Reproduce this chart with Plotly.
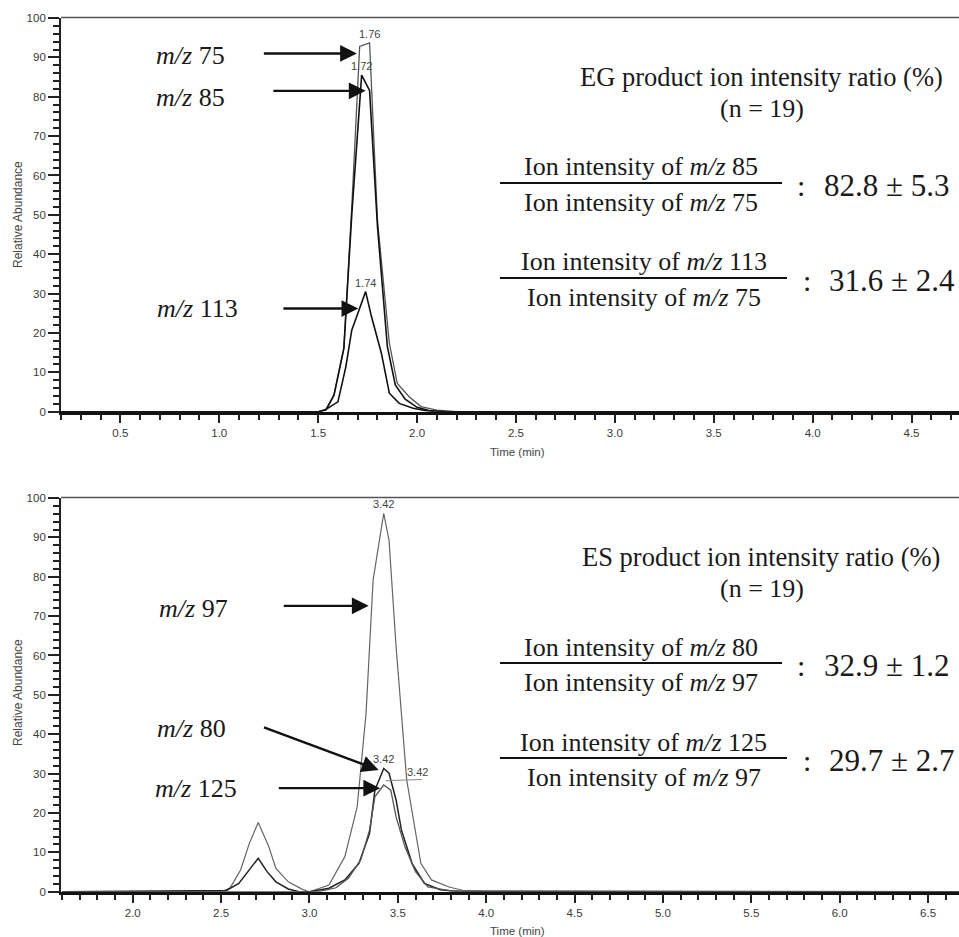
import plotly.graph_objects as go

# ---------------- data ----------------
# Top panel: EG product ions
t_75 = [0.2, 1.50, 1.54, 1.58, 1.63, 1.67, 1.71, 1.76, 1.80, 1.86, 1.90, 1.96, 2.02, 2.10, 2.20, 4.74]
v_75 = [0, 0, 0.5, 4.2, 16.1, 52, 92.8, 93.7, 48.6, 17.4, 7.2, 3.8, 1.3, 0.4, 0, 0]
t_85 = [0.2, 1.50, 1.54, 1.58, 1.63, 1.67, 1.72, 1.76, 1.80, 1.85, 1.89, 1.94, 2.00, 2.06, 2.15, 4.74]
v_85 = [0, 0, 0.5, 4.2, 16.1, 50, 85.5, 81.6, 47, 16.5, 6.8, 3.2, 1.1, 0.3, 0, 0]
t_113 = [0.2, 1.51, 1.54, 1.60, 1.64, 1.67, 1.71, 1.74, 1.77, 1.82, 1.86, 1.91, 1.98, 2.04, 2.10, 4.74]
v_113 = [0, 0, 0.6, 2.5, 11.4, 20.7, 26.3, 30.5, 24.1, 14.8, 4.7, 2.1, 0.9, 0.3, 0, 0]

# Bottom panel: ES product ions
t_97 = [1.6, 2.50, 2.55, 2.61, 2.66, 2.71, 2.77, 2.81, 2.88, 2.96, 3.00, 3.11, 3.20, 3.27, 3.32,
        3.36, 3.42, 3.45, 3.49, 3.55, 3.63, 3.69, 3.79, 3.87, 4.00, 6.68]
v_97 = [0, 0, 0.9, 5.5, 12.3, 17.6, 11.4, 5.9, 2.5, 0.6, 0, 1.7, 8.9, 21.6, 45.3,
        79.2, 96.1, 89.3, 62.2, 28.4, 7.2, 3.0, 1.2, 0.3, 0, 0]
t_80 = [1.6, 2.53, 2.60, 2.66, 2.71, 2.76, 2.81, 2.88, 2.94, 3.00, 3.11, 3.20, 3.28, 3.34,
        3.37, 3.42, 3.45, 3.49, 3.52, 3.58, 3.65, 3.74, 3.85, 6.68]
v_80 = [0, 0.3, 2.1, 5.5, 8.5, 5.1, 2.5, 0.7, 0, 0, 0.9, 3.0, 7.2, 14.8,
        25.8, 31.3, 30.1, 23.3, 15.7, 7.2, 2.1, 0.5, 0, 0]
t_125 = [1.6, 3.05, 3.15, 3.22, 3.29, 3.34, 3.37, 3.42, 3.46, 3.49, 3.54, 3.60, 3.67, 3.80, 6.68]
v_125 = [0, 0, 1.0, 3.4, 8.1, 15.7, 24.1, 27.1, 25.8, 19.0, 11.4, 5.1, 1.2, 0.2, 0]

# peak labels
top_peaks = [("1.76", 1.76, 93.7), ("1.72", 1.72, 85.5), ("1.74", 1.74, 30.5)]
bot_peaks = [("3.42", 3.42, 96.1), ("3.42", 3.42, 31.3)]

# arrows: (tail_x, tail_y, tip_x, tip_y)
top_arrows = [(1.218, 91.0, 1.696, 91.0), (1.266, 81.5, 1.74, 81.5), (1.317, 26.2, 1.703, 26.2)]
bot_arrows = [(2.846, 72.6, 3.335, 72.6), (2.734, 41.9, 3.391, 30.9), (2.818, 26.3, 3.40, 26.3)]

top_ions = ["75", "85", "113"]
bot_ions = ["97", "80", "125"]
top_ratios = [("85", "75", "82.8 ± 5.3"), ("113", "75", "31.6 ± 2.4")]
bot_ratios = [("80", "97", "32.9 ± 1.2"), ("125", "97", "29.7 ± 2.7")]

# ---------------- figure ----------------
W, H = 959, 937
def px(x): return x / W
def py(y): return 1 - y / H

fig = go.Figure()
fig.add_trace(go.Scatter(x=t_75, y=v_75, mode="lines", line=dict(color="#555", width=1.3), xaxis="x", yaxis="y"))
fig.add_trace(go.Scatter(x=t_85, y=v_85, mode="lines", line=dict(color="#111", width=1.6), xaxis="x", yaxis="y"))
fig.add_trace(go.Scatter(x=t_113, y=v_113, mode="lines", line=dict(color="#111", width=1.6), xaxis="x", yaxis="y"))
fig.add_trace(go.Scatter(x=t_97, y=v_97, mode="lines", line=dict(color="#666", width=1.2), xaxis="x2", yaxis="y2"))
fig.add_trace(go.Scatter(x=t_80, y=v_80, mode="lines", line=dict(color="#222", width=1.5), xaxis="x2", yaxis="y2"))
fig.add_trace(go.Scatter(x=t_125, y=v_125, mode="lines", line=dict(color="#555", width=1.3), xaxis="x2", yaxis="y2"))

tickfont = dict(family="Liberation Sans, Arial", size=11.5, color="#3a3a3a")

def xax(rng, dom_y_anchor):
    return dict(range=rng, domain=[px(61), 1], anchor=dom_y_anchor, showline=True, linewidth=2.5,
                linecolor="#111", ticks="outside", ticklen=9, tickwidth=1.6, tickcolor="#222",
                tick0=0.5, dtick=0.5, tickformat=".1f", tickfont=tickfont, showgrid=False,
                zeroline=False, automargin=False,
                minor=dict(dtick=0.1, ticks="outside", ticklen=6, tickwidth=1.5, tickcolor="#222", showgrid=False))

def yax(dom, x_anchor):
    return dict(range=[0, 100], domain=dom, anchor=x_anchor, showline=True, linewidth=1.8,
                linecolor="#222", ticks="outside", ticklen=11, tickwidth=1.6, tickcolor="#222",
                tick0=0, dtick=10, tickfont=tickfont, showgrid=False, zeroline=False, automargin=False,
                minor=dict(dtick=2, ticks="outside", ticklen=6, tickwidth=1.5, tickcolor="#222", showgrid=False))

fig.update_layout(
    width=W, height=H, margin=dict(l=0, r=0, t=0, b=0),
    paper_bgcolor="white", plot_bgcolor="white", showlegend=False,
    xaxis=xax([0.2, 4.74], "y"),
    yaxis=yax([py(411.7), py(18)], "x"),
    xaxis2=xax([1.594, 6.675], "y2"),
    yaxis2=yax([py(891.7), py(498)], "x2"),
)

anns = []
shapes = []
serif = "Liberation Serif, Times New Roman"
tcol = "#1a1a1a"

# top border lines
for yb in (17.5, 497.5):
    shapes.append(dict(type="line", xref="paper", yref="paper", x0=px(61), x1=1, y0=py(yb), y1=py(yb),
                       line=dict(color="#555", width=1.5)))

# axis titles
for yc in (215, 693):
    anns.append(dict(text="Relative Abundance", xref="paper", yref="paper", x=px(18), y=py(yc),
                     textangle=-90, showarrow=False, font=dict(family="Liberation Sans, Arial", size=12, color="#444"),
                     xanchor="center", yanchor="middle"))
for yc in (452, 931):
    anns.append(dict(text="Time (min)", xref="paper", yref="paper", x=px(517), y=py(yc),
                     showarrow=False, font=dict(family="Liberation Sans, Arial", size=11.5, color="#444"),
                     xanchor="center", yanchor="middle"))

# peak labels
for lab, x, y in top_peaks:
    anns.append(dict(text=lab, xref="x", yref="y", x=x, y=y, yanchor="bottom", yshift=1, showarrow=False,
                     font=dict(family="Liberation Sans, Arial", size=11, color="#444")))
for lab, x, y in bot_peaks:
    anns.append(dict(text=lab, xref="x2", yref="y2", x=x, y=y, yanchor="bottom", yshift=1, showarrow=False,
                     font=dict(family="Liberation Sans, Arial", size=11, color="#444")))
# m/z 125 label with leader line
shapes.append(dict(type="line", xref="x2", yref="y2", x0=3.43, x1=3.635, y0=28.2, y1=28.5,
                   line=dict(color="#888", width=1)))
anns.append(dict(text="3.42", xref="x2", yref="y2", x=3.61, y=28.4, yanchor="bottom", showarrow=False,
                 font=dict(family="Liberation Sans, Arial", size=11, color="#444")))

# arrows
for (ax_, ay_, x_, y_), (xr, yr) in [(a, ("x", "y")) for a in top_arrows] + [(a, ("x2", "y2")) for a in bot_arrows]:
    anns.append(dict(text="", xref=xr, yref=yr, axref=xr, ayref=yr, x=x_, y=y_, ax=ax_, ay=ay_,
                     showarrow=True, arrowhead=2, arrowsize=1.4, arrowwidth=2.4, arrowcolor="#111", standoff=0))

# m/z labels
for ion, (xl, yc) in zip(top_ions, [(154, 55), (154, 97), (155, 308)]):
    anns.append(dict(text=f"<i>m/z</i> {ion}", xref="paper", yref="paper", x=px(xl), y=py(yc),
                     xanchor="left", yanchor="middle", showarrow=False, font=dict(family=serif, size=26, color=tcol)))
for ion, (xl, yc) in zip(bot_ions, [(157, 608), (155, 728), (153, 788)]):
    anns.append(dict(text=f"<i>m/z</i> {ion}", xref="paper", yref="paper", x=px(xl), y=py(yc),
                     xanchor="left", yanchor="middle", showarrow=False, font=dict(family=serif, size=26, color=tcol)))

# ratio blocks
def block(name, y0, ratios):
    anns.append(dict(text=f"{name} product ion intensity ratio (%)", xref="paper", yref="paper",
                     x=px(761), y=py(y0), xanchor="center", yanchor="middle", showarrow=False,
                     font=dict(family=serif, size=26.5, color=tcol)))
    anns.append(dict(text="(n = 19)", xref="paper", yref="paper", x=px(762), y=py(y0 + 31),
                     xanchor="center", yanchor="middle", showarrow=False,
                     font=dict(family=serif, size=26, color=tcol)))
    specs = [(91, 782, 800.7, 822), (186, 787, 807, 827)]
    for (num, den, val), (dy, xend, xcol, xval) in zip(ratios, specs):
        yl = y0 + 106 if dy == 91 else y0 + 201
        cx = (500 + xend) / 2
        anns.append(dict(text=f"Ion intensity of <i>m/z</i> {num}", xref="paper", yref="paper",
                         x=px(cx), y=py(yl - 16), xanchor="center", yanchor="middle", showarrow=False,
                         font=dict(family=serif, size=26, color=tcol)))
        anns.append(dict(text=f"Ion intensity of <i>m/z</i> {den}", xref="paper", yref="paper",
                         x=px(cx), y=py(yl + 19), xanchor="center", yanchor="middle", showarrow=False,
                         font=dict(family=serif, size=26, color=tcol)))
        shapes.append(dict(type="line", xref="paper", yref="paper", x0=px(500), x1=px(xend),
                           y0=py(yl), y1=py(yl), line=dict(color="#111", width=2)))
        anns.append(dict(text=":", xref="paper", yref="paper", x=px(xcol), y=py(yl + 2),
                         xanchor="center", yanchor="middle", showarrow=False,
                         font=dict(family=serif, size=30, color=tcol)))
        anns.append(dict(text=val, xref="paper", yref="paper", x=px(xval), y=py(yl + 2),
                         xanchor="left", yanchor="middle", showarrow=False,
                         font=dict(family=serif, size=31, color=tcol)))

block("EG", 77, top_ratios)
block("ES", 557, bot_ratios)

fig.update_layout(annotations=anns, shapes=shapes)
fig.write_html("out.html")
